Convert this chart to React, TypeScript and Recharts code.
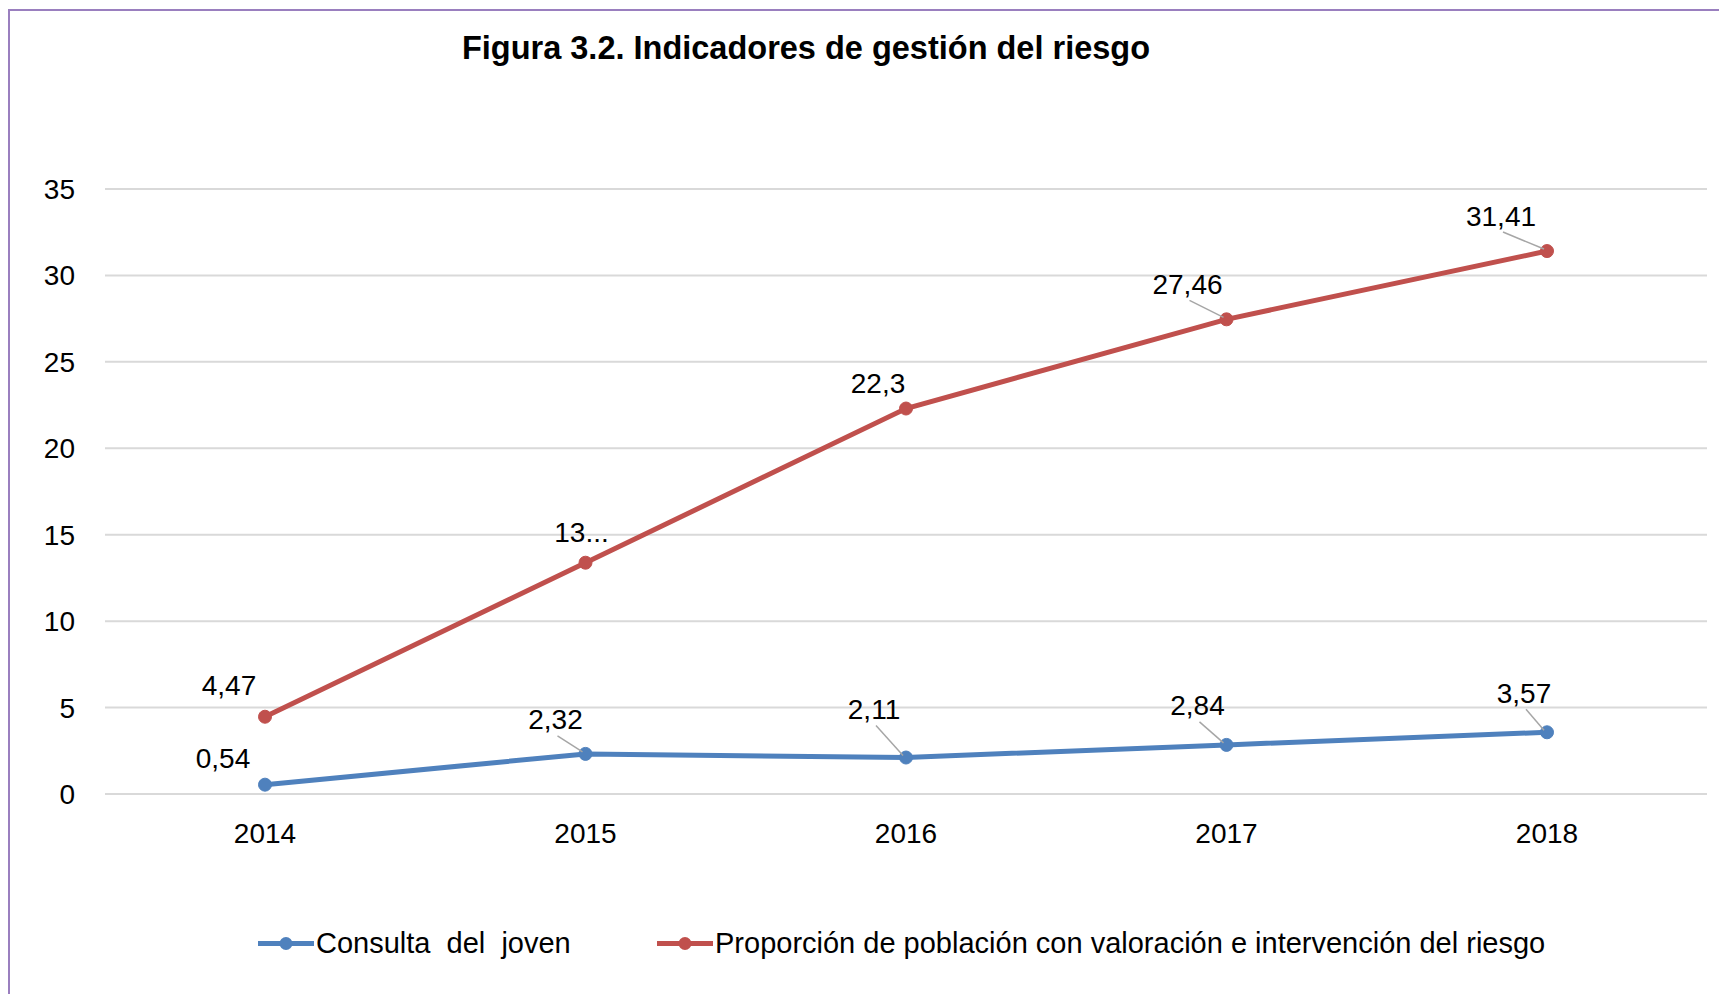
import React from "react";
import { LineChart, Line, XAxis, YAxis, CartesianGrid, LabelList } from "recharts";

const years = ["2014", "2015", "2016", "2017", "2018"];
const consultaJoven = [0.54, 2.32, 2.11, 2.84, 3.57];
const poblacionRiesgo = [4.47, 13.38, 22.3, 27.46, 31.41];
const poblacionLabels = ["4,47", "13...", "22,3", "27,46", "31,41"];
const yTicks = [0, 5, 10, 15, 20, 25, 30, 35];

const BLUE = "#4F81BD";
const RED = "#C0504D";
const FONT = "'Liberation Sans', Arial, sans-serif";

// label placement relative to the point (label center), plus whether a leader line is drawn
const blueLabelPos = [
  { dx: -42, dy: -26, leader: false },
  { dx: -30, dy: -34, leader: true },
  { dx: -32, dy: -48, leader: true },
  { dx: -29, dy: -39, leader: true },
  { dx: -23, dy: -39, leader: true },
];
const redLabelPos = [
  { dx: -36, dy: -31, leader: false },
  { dx: -4, dy: -30, leader: false },
  { dx: -28, dy: -25, leader: false },
  { dx: -39, dy: -35, leader: true },
  { dx: -46, dy: -35, leader: true },
];

const data = years.map((year, i) => ({
  year,
  consulta: consultaJoven[i],
  poblacion: poblacionRiesgo[i],
}));

const fmt = (v: number) => String(v).replace(".", ",");

const makeLabel = (pos: any[], texts: (i: number) => string) => (props: any) => {
  const { x, y, index } = props;
  const p = pos[index];
  const cx = x + p.dx;
  const cy = y + p.dy;
  return (
    <g key={`lbl-${index}`}>
      {p.leader && (
        <line x1={cx + 2} y1={cy + 16} x2={x - 3} y2={y - 2} stroke="#A6A6A6" strokeWidth={1.5} />
      )}
      <text
        x={cx}
        y={cy}
        textAnchor="middle"
        dominantBaseline="central"
        fontSize={28}
        fontFamily={FONT}
        fill="#000"
      >
        {texts(index)}
      </text>
    </g>
  );
};

const LegendItem = ({ color, text, left }: any) => (
  <div style={{ position: "absolute", left, top: 943, transform: "translateY(-50%)", display: "flex", alignItems: "center" }}>
    <svg width={56} height={16}>
      <line x1={0} y1={8} x2={56} y2={8} stroke={color} strokeWidth={5} />
      <circle cx={28} cy={8} r={6.5} fill={color} />
    </svg>
    <span style={{ fontFamily: FONT, fontSize: 29, whiteSpace: "pre", color: "#000", marginLeft: 2 }}>{text}</span>
  </div>
);

export default function App() {
  return (
    <div style={{ position: "absolute", left: 0, top: 0, width: 1719, height: 994, background: "#fff", overflow: "hidden" }}>
      <div
        style={{
          position: "absolute",
          left: 8,
          top: 9,
          width: 1760,
          height: 1040,
          borderTop: "2px solid #9A7FBF",
          borderLeft: "2px solid #9A7FBF",
        }}
      />
      <div
        style={{
          position: "absolute",
          left: 806,
          top: 48,
          transform: "translate(-50%, -50%)",
          fontFamily: FONT,
          fontWeight: "bold",
          fontSize: 32.5,
          whiteSpace: "nowrap",
          color: "#000",
        }}
      >
        Figura 3.2. Indicadores de gestión del riesgo
      </div>
      <div style={{ position: "absolute", left: 0, top: 0 }}>
        <LineChart width={1719} height={994} data={data} margin={{ top: 189, right: 12, left: 0, bottom: 140 }}>
          <CartesianGrid vertical={false} stroke="#D9D9D9" strokeWidth={2} />
          <XAxis
            dataKey="year"
            height={60}
            padding={{ left: 160, right: 160 }}
            axisLine={{ stroke: "#D9D9D9", strokeWidth: 2 }}
            tickLine={false}
            tickSize={0}
            tickMargin={29}
            tick={{ fontSize: 28, fontFamily: FONT, fill: "#000" }}
          />
          <YAxis
            width={105}
            domain={[0, 35]}
            ticks={yTicks}
            axisLine={false}
            tickLine={false}
            tickSize={0}
            tickMargin={30}
            tick={{ fontSize: 28, fontFamily: FONT, fill: "#000" }}
          />
          <Line
            dataKey="consulta"
            stroke={BLUE}
            strokeWidth={5}
            dot={{ r: 6.5, fill: BLUE, stroke: BLUE, strokeWidth: 1 }}
            activeDot={false}
            isAnimationActive={false}
          >
            <LabelList dataKey="consulta" content={makeLabel(blueLabelPos, (i) => fmt(consultaJoven[i]))} />
          </Line>
          <Line
            dataKey="poblacion"
            stroke={RED}
            strokeWidth={5}
            dot={{ r: 6.5, fill: RED, stroke: RED, strokeWidth: 1 }}
            activeDot={false}
            isAnimationActive={false}
          >
            <LabelList dataKey="poblacion" content={makeLabel(redLabelPos, (i) => poblacionLabels[i])} />
          </Line>
        </LineChart>
      </div>
      <LegendItem color={BLUE} left={258} text="Consulta  del  joven" />
      <LegendItem color={RED} left={657} text="Proporción de población con valoración e intervención del riesgo" />
    </div>
  );
}
